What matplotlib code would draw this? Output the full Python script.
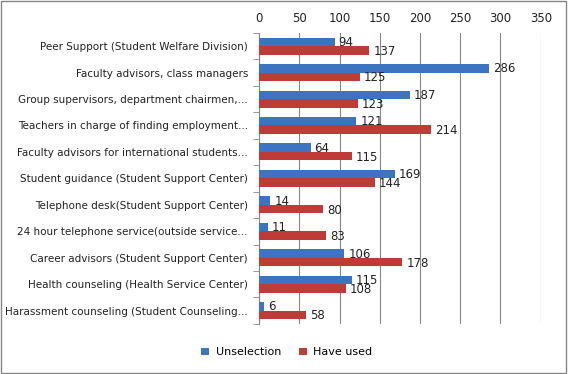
import numpy as np
import matplotlib.pyplot as plt

categories = [
    "Peer Support (Student Welfare Division)",
    "Faculty advisors, class managers",
    "Group supervisors, department chairmen,...",
    "Teachers in charge of finding employment...",
    "Faculty advisors for international students...",
    "Student guidance (Student Support Center)",
    "Telephone desk(Student Support Center)",
    "24 hour telephone service(outside service...",
    "Career advisors (Student Support Center)",
    "Health counseling (Health Service Center)",
    "Harassment counseling (Student Counseling...",
]
unselection = [94, 286, 187, 121, 64, 169, 14, 11, 106, 115, 6]
have_used = [137, 125, 123, 214, 115, 144, 80, 83, 178, 108, 58]

blue = "#3C74C2"
red = "#BE3B38"
h = 0.32

fig = plt.figure(figsize=(5.68, 3.74), dpi=100)
ax = fig.add_axes([0.456, 0.134, 0.496, 0.778])

y = np.arange(len(categories))
ax.barh(y - h / 2, unselection, height=h, color=blue, label="Unselection", zorder=3)
ax.barh(y + h / 2, have_used, height=h, color=red, label="Have used", zorder=3)

# value labels just right of each bar
for yi, v in zip(y, unselection):
    ax.text(v + 5, yi - h / 2 + 0.02, str(v), va="center", ha="left", fontsize=8.5, color="#222222")
for yi, v in zip(y, have_used):
    ax.text(v + 5, yi + h / 2 + 0.04, str(v), va="center", ha="left", fontsize=8.5, color="#222222")

ax.set_xlim(0, 350)
ax.set_ylim(len(categories) - 0.5, -0.5)
ax.set_xticks(range(0, 351, 50))
ax.xaxis.tick_top()
ax.tick_params(axis="x", length=0, labelsize=8.5, pad=6, colors="#222222")
ax.grid(axis="x", color="#868686", linewidth=0.8, zorder=0)

ax.set_yticks(y)
ax.set_yticklabels(categories, fontsize=7.45, color="#222222")
ax.set_yticks(np.arange(len(categories) + 1) - 0.5, minor=True)
ax.tick_params(axis="y", which="major", length=0, pad=8)
ax.tick_params(axis="y", which="minor", length=4, color="#868686", direction="out")

for s in ["top", "right", "bottom"]:
    ax.spines[s].set_visible(False)
ax.spines["left"].set_color("#868686")

fig.legend(loc="center", bbox_to_anchor=(0.505, 0.058), ncol=2, frameon=False,
           fontsize=8, handlelength=0.7, handleheight=0.7, columnspacing=1.6,
           handletextpad=0.6)

fig.patches.append(plt.Rectangle((0.002, 0.003), 0.995, 0.994, transform=fig.transFigure,
                                 fill=False, edgecolor="#868686", linewidth=1))
fig.savefig("out.png", dpi=100)
